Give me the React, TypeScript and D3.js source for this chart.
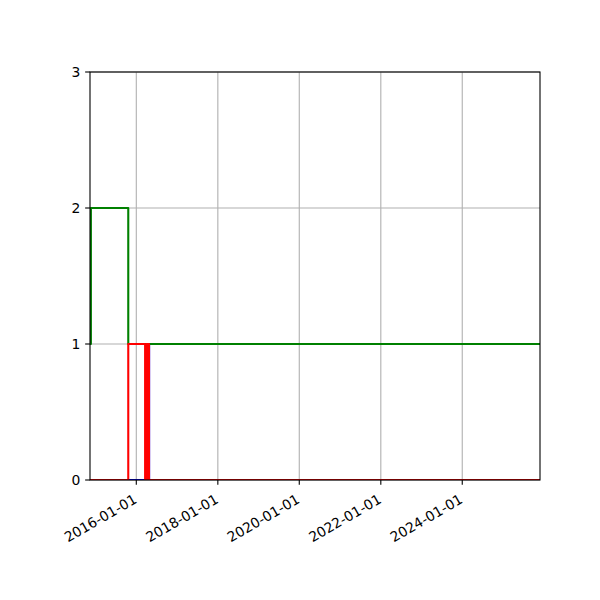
import React from "react";
import * as d3 from "d3";

const xStart = "2014-11-12";
const xEnd = "2025-11-28";

const blueDates = ["2014-11-12", "2016-04-25", "2025-11-28"];
const blueValues = [0, 1, 1];

const greenDates = ["2014-11-12", "2014-11-20", "2015-10-21", "2025-11-28"];
const greenValues = [1, 2, 1, 1];

const redDates = [
  "2014-11-12",
  "2015-10-21",
  "2016-03-20",
  "2016-04-01",
  "2016-04-12",
  "2016-04-18",
  "2016-04-24",
  "2025-11-28",
];
const redValues = [0, 1, 0, 1, 0, 1, 0, 0];

const xTickLabels = ["2016-01-01", "2018-01-01", "2020-01-01", "2022-01-01", "2024-01-01"];
const yTicks = [0, 1, 2, 3];

const W = 600;
const H = 600;
const L = 90;
const R = 540;
const T = 72;
const B = 480;

const parse = d3.utcParse("%Y-%m-%d");

export default function App() {
  const x = d3
    .scaleUtc()
    .domain([parse(xStart)!, parse(xEnd)!])
    .range([L, R]);
  const y = d3.scaleLinear().domain([0, 3]).range([B, T]);

  const line = d3
    .line<[Date, number]>()
    .x((d) => x(d[0]))
    .y((d) => y(d[1]))
    .curve(d3.curveStepAfter);

  const mk = (dates: string[], vals: number[]) =>
    line(dates.map((s, i) => [parse(s)!, vals[i]] as [Date, number])) || "";

  const series = [
    { path: mk(blueDates, blueValues), color: "#0000ff" },
    { path: mk(greenDates, greenValues), color: "#008000" },
    { path: mk(redDates, redValues), color: "#ff0000" },
  ];

  const font = "DejaVu Sans, sans-serif";
  const fs = 13.9;

  return (
    <svg
      width={W}
      height={H}
      style={{ position: "absolute", left: 0, top: 0, background: "#fff" }}
    >
      <defs>
        <clipPath id="axclip">
          <rect x={L} y={T} width={R - L} height={B - T} />
        </clipPath>
      </defs>
      <rect x={0} y={0} width={W} height={H} fill="#fff" />
      {/* grid */}
      <g stroke="#b0b0b0" strokeWidth={1.1}>
        {xTickLabels.map((s) => {
          const px = x(parse(s)!);
          return <line key={s} x1={px} x2={px} y1={T} y2={B} />;
        })}
        {yTicks.map((v) => (
          <line key={v} x1={L} x2={R} y1={y(v)} y2={y(v)} />
        ))}
      </g>
      {/* series */}
      <g clipPath="url(#axclip)" fill="none" strokeWidth={2.08}>
        {series.map((s, i) => (
          <path key={i} d={s.path} stroke={s.color} strokeLinejoin="round" strokeLinecap="square" />
        ))}
      </g>
      {/* spines */}
      <rect
        x={L}
        y={T}
        width={R - L}
        height={B - T}
        fill="none"
        stroke="#000"
        strokeWidth={1.1}
      />
      {/* x ticks */}
      <g>
        {xTickLabels.map((s) => {
          const px = x(parse(s)!);
          return (
            <g key={s}>
              <line x1={px} x2={px} y1={B} y2={B + 4.86} stroke="#000" strokeWidth={1.1} />
              <text
                transform={`translate(${px + 1.5},${B + 22.2}) rotate(-30)`}
                textAnchor="end"
                fontFamily={font}
                fontSize={fs}
                fill="#000"
              >
                {s}
              </text>
            </g>
          );
        })}
      </g>
      {/* y ticks */}
      <g>
        {yTicks.map((v) => (
          <g key={v}>
            <line x1={L - 4.86} x2={L} y1={y(v)} y2={y(v)} stroke="#000" strokeWidth={1.1} />
            <text
              x={L - 9.7}
              y={y(v)}
              textAnchor="end"
              dominantBaseline="central"
              fontFamily={font}
              fontSize={fs}
              fill="#000"
            >
              {v}
            </text>
          </g>
        ))}
      </g>
    </svg>
  );
}
